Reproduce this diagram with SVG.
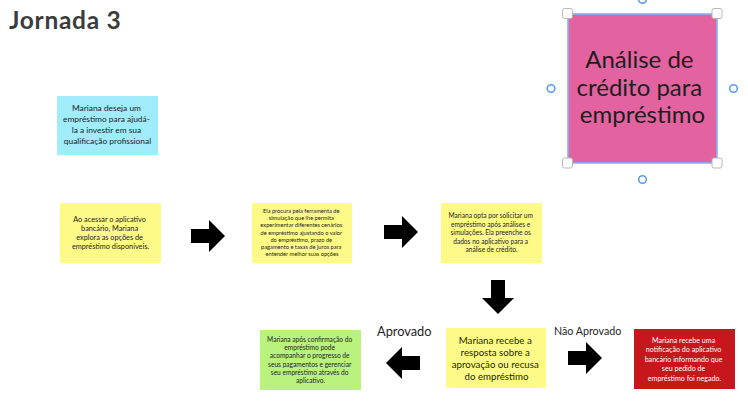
<svg xmlns="http://www.w3.org/2000/svg" width="748" height="416" viewBox="0 0 748 416">
  <style>
    .t { font-family: Lato, "Liberation Sans", Arial, sans-serif; text-anchor: middle; fill: #1e1e1e; }
    .yellow { fill: #fdfa87; }
    .label { font-family: Lato, "Liberation Sans", Arial, sans-serif; fill: #1e1e1e; }
    .handle { fill: #ffffff; stroke: #b8b8b8; stroke-width: 1; }
    .ring { fill: #ffffff; stroke: #5c9cf0; stroke-width: 1.6; }
  </style>
  <defs>
    <!-- block arrow pointing right, 34 x 32 -->
    <path id="arrow" d="M0,9 H18 V0 L34,16 L18,32 V23 H0 Z" fill="#000000"/>
  </defs>

  <rect width="748" height="416" fill="#ffffff"/>

  <text x="9" y="29" font-family="Lato, 'Liberation Sans', Arial, sans-serif" font-weight="700" font-size="24.5" letter-spacing="0.7" fill="#3c3c3c">Jornada 3</text>

  <g id="desejo">
    <rect x="57" y="96" width="101" height="59" fill="#a0ecfa"/>
    <text class="t" font-size="8.4">
      <tspan x="107.5" y="111">Mariana deseja um</tspan>
      <tspan x="107.5" y="122">empréstimo para ajudá-</tspan>
      <tspan x="107.5" y="133">la a investir em sua</tspan>
      <tspan x="107.5" y="144">qualificação profissional</tspan>
    </text>
  </g>

  <g id="acesso">
    <rect class="yellow" x="60" y="203" width="101" height="60"/>
    <text class="t" font-size="7.3">
      <tspan x="110.5" y="221.5">Ao acessar o aplicativo</tspan>
      <tspan x="110.5" y="230.8">bancário, Mariana</tspan>
      <tspan x="110.5" y="240.1">explora as opções de</tspan>
      <tspan x="110.5" y="249.4">empréstimo disponíveis.</tspan>
    </text>
  </g>

  <g id="simulacao">
    <rect class="yellow" x="252" y="203" width="100" height="60"/>
    <text class="t" font-size="5.7">
      <tspan x="302" y="213">Ela procura pela ferramenta de</tspan>
      <tspan x="302" y="220.2">simulação que lhe permita</tspan>
      <tspan x="302" y="227.4">experimentar diferentes cenários</tspan>
      <tspan x="302" y="234.6">de empréstimo ajustando o valor</tspan>
      <tspan x="302" y="241.8">do empréstimo, prazo de</tspan>
      <tspan x="302" y="249">pagamento e taxas de juros para</tspan>
      <tspan x="302" y="256.2">entender melhor suas opções</tspan>
    </text>
  </g>

  <g id="solicitacao">
    <rect class="yellow" x="441" y="203" width="101" height="60"/>
    <text class="t" font-size="6.6">
      <tspan x="491.5" y="218">Mariana opta por solicitar um</tspan>
      <tspan x="491.5" y="226.6">empréstimo após análises e</tspan>
      <tspan x="491.5" y="235.2">simulações. Ela preenche os</tspan>
      <tspan x="491.5" y="243.8">dados no aplicativo para a</tspan>
      <tspan x="491.5" y="252.4">análise de crédito.</tspan>
    </text>
  </g>

  <g id="resposta">
    <rect class="yellow" x="446" y="328" width="100" height="60"/>
    <text class="t" font-size="9.7">
      <tspan x="496.5" y="343.5">Mariana recebe a</tspan>
      <tspan x="496.5" y="355.8">resposta sobre a</tspan>
      <tspan x="496.5" y="368.1">aprovação ou recusa</tspan>
      <tspan x="496.5" y="380.4">do empréstimo</tspan>
    </text>
  </g>

  <g id="aprovado">
    <rect x="260" y="330" width="101" height="60" fill="#b9f27c"/>
    <text class="t" font-size="6.6">
      <tspan x="310.5" y="341.6">Mariana após confirmação do</tspan>
      <tspan x="310.5" y="349.9">empréstimo pode</tspan>
      <tspan x="310.5" y="358.2">acompanhar o progresso de</tspan>
      <tspan x="310.5" y="366.5">seus pagamentos e gerenciar</tspan>
      <tspan x="310.5" y="374.8">seu empréstimo através do</tspan>
      <tspan x="310.5" y="383.1">aplicativo.</tspan>
    </text>
  </g>

  <g id="negado">
    <rect x="634" y="329" width="101" height="60" fill="#c8161d"/>
    <text class="t" font-size="7.1" style="fill:#ffffff">
      <tspan x="684.5" y="342.5">Mariana recebe uma</tspan>
      <tspan x="684.5" y="352">notificação do aplicativo</tspan>
      <tspan x="684.5" y="361.5">bancário informando que</tspan>
      <tspan x="684.5" y="371">seu pedido de</tspan>
      <tspan x="684.5" y="380.5">empréstimo foi negado.</tspan>
    </text>
  </g>

  <g id="analise">
    <rect x="568" y="14" width="149" height="149" fill="#e2639f" stroke="#80b4f5" stroke-width="1.6"/>
    <text class="t" font-size="24">
      <tspan x="642.5" y="68">Análise de</tspan>
      <tspan x="642.5" y="95.5">crédito para</tspan>
      <tspan x="642.5" y="123">empréstimo</tspan>
    </text>
    <!-- selection handles -->
    <rect class="handle" x="562.5" y="8.5" width="10" height="10" rx="2"/>
    <rect class="handle" x="712" y="8.5" width="10" height="10" rx="2"/>
    <rect class="handle" x="562.5" y="158" width="10" height="10" rx="2"/>
    <rect class="handle" x="712" y="158" width="10" height="10" rx="2"/>
    <circle class="ring" cx="551" cy="88.5" r="3.8"/>
    <circle class="ring" cx="733.5" cy="88.5" r="3.8"/>
    <circle class="ring" cx="642.5" cy="179.5" r="3.8"/>
    <circle class="ring" cx="642.5" cy="-0.5" r="3.8"/>
  </g>

  <g id="connectors">
    <use href="#arrow" transform="translate(191,220)"/>
    <use href="#arrow" transform="translate(384,216)"/>
    <use href="#arrow" transform="translate(514,280) rotate(90)"/>
    <use href="#arrow" transform="translate(420,379) rotate(180)"/>
    <use href="#arrow" transform="translate(568,342)"/>
    <text class="label" x="377" y="335.5" font-size="12.8">Aprovado</text>
    <text class="label" x="554" y="334.5" font-size="10.7">Não Aprovado</text>
  </g>
</svg>
